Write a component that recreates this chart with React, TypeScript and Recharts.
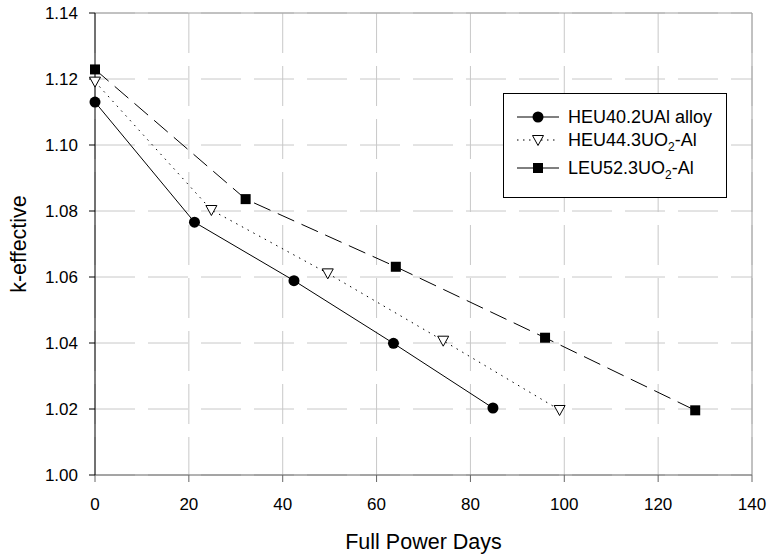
import { LineChart, Line, XAxis, YAxis, CartesianGrid, Legend, ReferenceLine } from "recharts";

const heu40Days = [0, 21.2, 42.4, 63.6, 84.8];
const heu40K = [1.113, 1.0766, 1.0589, 1.0399, 1.0203];

const heu44Days = [0, 24.8, 49.6, 74.2, 99.0];
const heu44K = [1.1192, 1.0803, 1.0611, 1.0407, 1.0197];

const leu52Days = [0, 32.1, 64.1, 95.9, 127.9];
const leu52K = [1.1229, 1.0836, 1.0631, 1.0416, 1.0196];

const xTicks = [0, 20, 40, 60, 80, 100, 120, 140];
const yTicks = [1.0, 1.02, 1.04, 1.06, 1.08, 1.1, 1.12, 1.14];

const FONT = "'Liberation Sans', Arial, sans-serif";

const toRows = (days: number[], k: number[]) => days.map((d, i) => ({ day: d, k: k[i] }));

const heu40 = toRows(heu40Days, heu40K);
const heu44 = toRows(heu44Days, heu44K);
const leu52 = toRows(leu52Days, leu52K);

function Circle({ cx, cy }: any) {
  return <circle cx={cx} cy={cy} r={5.5} fill="#000" />;
}

function Tri({ cx, cy }: any) {
  return (
    <polygon
      points={`${cx - 5.5},${cy - 4.5} ${cx + 5.5},${cy - 4.5} ${cx},${cy + 5.5}`}
      fill="#fff"
      stroke="#000"
      strokeWidth={1}
    />
  );
}

function Square({ cx, cy }: any) {
  return <rect x={cx - 5} y={cy - 5} width={10} height={10} fill="#000" />;
}

const legendRows = [
  { label: <>HEU40.2UAl alloy</>, dash: undefined, Mark: Circle, top: 23 },
  { label: <>HEU44.3UO<sub style={{ fontSize: 12 }}>2</sub>-Al</>, dash: "1.5 4.5", Mark: Tri, top: 46 },
  { label: <>LEU52.3UO<sub style={{ fontSize: 12 }}>2</sub>-Al</>, dash: undefined, Mark: Square, top: 74 },
];

function LegendBox() {
  return (
    <div
      style={{
        position: "relative",
        width: 222,
        height: 103,
        border: "1px solid #000",
        background: "#fff",
        fontFamily: FONT,
        fontSize: 18,
        color: "#000",
      }}
    >
      {legendRows.map((r, i) => (
        <div key={i}>
          <svg
            width={42}
            height={14}
            style={{ position: "absolute", left: 13, top: r.top - 7 }}
          >
            <line x1={0} y1={7} x2={42} y2={7} stroke="#000" strokeDasharray={r.dash} />
            <r.Mark cx={21} cy={7} />
          </svg>
          <div
            style={{
              position: "absolute",
              left: 64,
              top: r.top - 11,
              lineHeight: "22px",
              whiteSpace: "nowrap",
            }}
          >
            {r.label}
          </div>
        </div>
      ))}
    </div>
  );
}

export default function App() {
  return (
    <div style={{ position: "absolute", left: 0, top: 0, background: "#fff" }}>
      <LineChart
        width={768}
        height={556}
        margin={{ top: 13, right: 16, bottom: 7, left: 18 }}
      >
        <CartesianGrid stroke="#c8c8c8" strokeDasharray="40 13" />

        <XAxis
          dataKey="day"
          type="number"
          domain={[0, 140]}
          ticks={xTicks}
          allowDuplicatedCategory={false}
          height={74}
          stroke="#666"
          tickSize={7}
          tickMargin={16}
          tick={{ fill: "#000", fontSize: 17, fontFamily: FONT }}
          label={{
            value: "Full Power Days",
            position: "insideBottom",
            offset: 0,
            fill: "#000",
            fontSize: 21.5,
            fontFamily: FONT,
          }}
        />

        <YAxis
          dataKey="k"
          type="number"
          domain={[1.0, 1.14]}
          ticks={yTicks}
          width={77}
          stroke="#000"
          tickSize={6}
          tickMargin={11}
          tickFormatter={(v: number) => v.toFixed(2)}
          tick={{ fill: "#000", fontSize: 17, fontFamily: FONT }}
          label={{
            value: "k-effective",
            angle: -90,
            position: "insideLeft",
            offset: 0,
            fill: "#000",
            fontSize: 21.5,
            fontFamily: FONT,
            style: { textAnchor: "middle" },
          }}
        />

        <ReferenceLine y={1.14} stroke="#a0a0a0" />
        <ReferenceLine x={140} stroke="#a0a0a0" />

        <Legend
          layout="vertical"
          align="center"
          verticalAlign="middle"
          content={() => <LegendBox />}
          wrapperStyle={{ left: 503, top: 93, width: 224, height: 105 }}
        />

        <Line
          data={heu40}
          dataKey="k"
          name="HEU40.2UAl alloy"
          type="linear"
          stroke="#000"
          strokeWidth={1}
          dot={<Circle />}
          isAnimationActive={false}
        />
        <Line
          data={heu44}
          dataKey="k"
          name="HEU44.3UO2-Al"
          type="linear"
          stroke="#000"
          strokeWidth={1}
          strokeDasharray="1.5 5"
          dot={<Tri />}
          isAnimationActive={false}
        />
        <Line
          data={leu52}
          dataKey="k"
          name="LEU52.3UO2-Al"
          type="linear"
          stroke="#000"
          strokeWidth={1}
          strokeDasharray="18 8"
          dot={<Square />}
          isAnimationActive={false}
        />
      </LineChart>
    </div>
  );
}
